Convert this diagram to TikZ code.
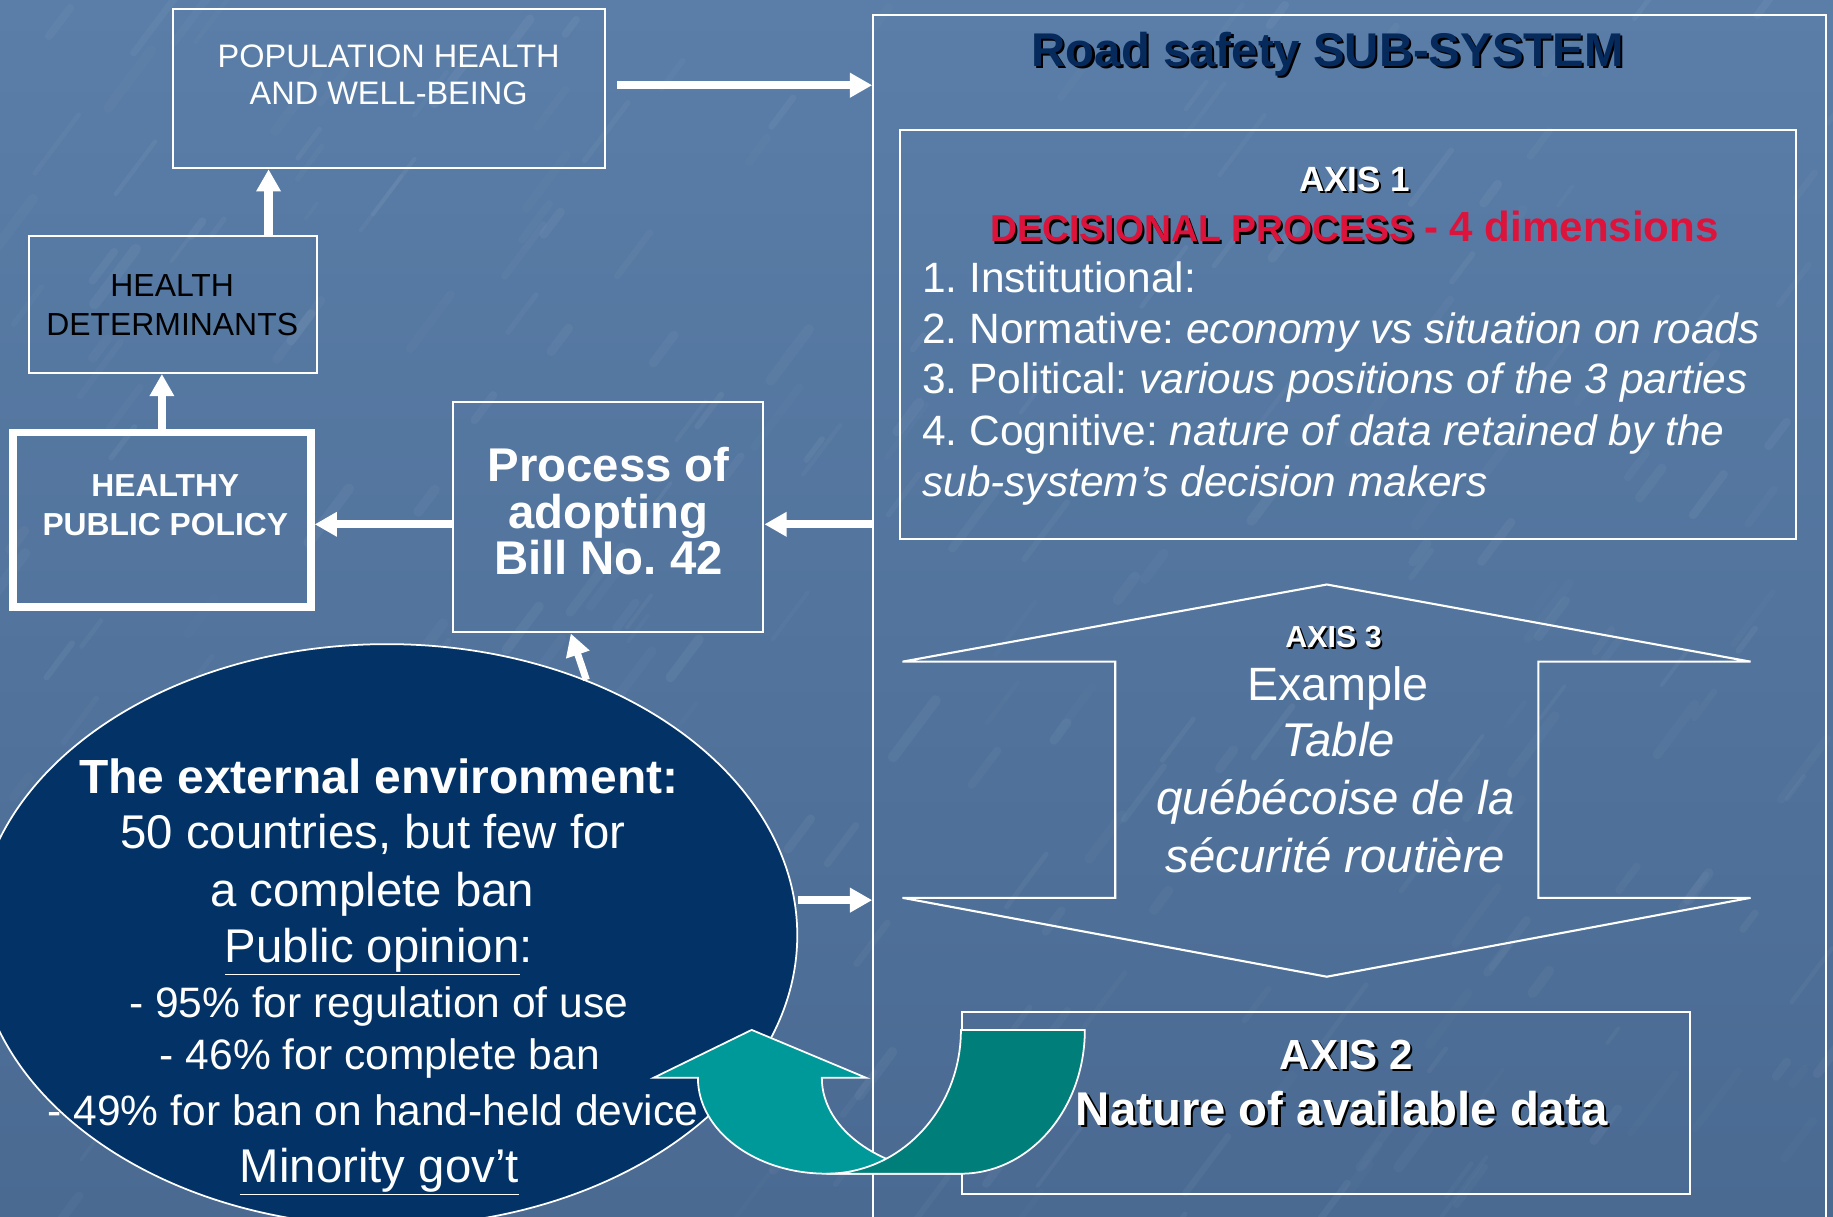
\documentclass[tikz,border=0pt]{standalone}
\usepackage{fontspec}
\setmainfont{Liberation Sans}
\usetikzlibrary{arrows.meta,shapes.geometric}
\definecolor{bgtop}{RGB}{90,126,168}
\definecolor{bgbot}{RGB}{74,106,146}
\definecolor{navyfill}{RGB}{3,51,102}
\definecolor{titlenavy}{RGB}{6,42,92}
\definecolor{crim}{RGB}{220,20,60}
\definecolor{tealA}{RGB}{0,153,153}
\definecolor{tealB}{RGB}{0,126,122}
\frenchspacing
\begin{document}
\frenchspacing
\begin{tikzpicture}[x=1pt,y=-1pt,
  thinbox/.style={draw=white, line width=1.8pt, inner sep=0pt},
  bigarrow/.style={draw=white, line width=7pt, -{Triangle[length=19pt,width=20pt]}},
  txt/.style={text=white, inner sep=0pt, anchor=base},
  shd/.style={text=black, inner sep=0pt, anchor=base},
  fs/.style={font={\fontsize{#1}{#1}\selectfont\frenchspacing}},
  fsb/.style={font={\fontsize{#1}{#1}\selectfont\bfseries\frenchspacing}},
]
\useasboundingbox (0,0) rectangle (1568,1041);
\clip (0,0) rectangle (1568,1041);
% background
\shade[top color=bgtop, bottom color=bgbot] (0,0) rectangle (1568,1041);
\pgfmathsetseed{12}
\foreach \k in {1,...,260}{
  \pgfmathsetmacro\xa{rnd*1600-20}
  \pgfmathsetmacro\ya{rnd*1080-20}
  \pgfmathsetmacro\len{15+rnd*50}
  \pgfmathsetmacro\op{0.015+rnd*0.035}
  \pgfmathsetmacro\lw{3+rnd*6}
  \draw[white, opacity=\op, line width=\lw pt, line cap=round] (\xa,\ya) -- ++(\len*0.6,-\len*0.8);
}

% main sub-system box
\node[thinbox, minimum width=815pt, minimum height=1087pt] (sub) at (1154.5,556.5) {};
% left boxes
\node[thinbox, minimum width=370pt, minimum height=136pt] (pop) at (332.9,75.9) {};
\node[thinbox, minimum width=246.5pt, minimum height=117pt] (hd) at (147.75,260.5) {};
\node[draw=white, line width=6.5pt, inner sep=0pt, minimum width=255pt, minimum height=149pt] (hpp) at (138.5,444.5) {};
\node[thinbox, minimum width=265.5pt, minimum height=197pt] (proc) at (520.25,442.5) {};
% axis boxes
\node[thinbox, minimum width=766pt, minimum height=350pt] (ax1) at (1153,286) {};
\node[thinbox, minimum width=622.5pt, minimum height=155pt] (ax2) at (1134.25,943.5) {};
% axis 3 double arrow
\draw[white, line width=1.8pt, line join=miter] (1135,500) -- (1497.5,566) -- (1316,566) -- (1316,768) -- (1497.5,768) -- (1135,835.5) -- (772,768) -- (954,768) -- (954,566) -- (772,566) -- cycle;
% ellipse
\node[ellipse, draw=white, line width=1.5pt, fill=navyfill, inner sep=0pt, minimum width=702pt, minimum height=498pt] (env) at (331,800) {};

% texts left
\node[txt, fs=27.8] (pop1) at (332.5,57.6) {POPULATION HEALTH};
\node[txt, fs=27.8] (pop2) at (332.5,89.5) {AND WELL-BEING};
\node[txt, fs=27.3, text=black] (hd1) at (147.3,253.9) {HEALTH};
\node[txt, fs=27.3, text=black] (hd2) at (147.3,287.3) {DETERMINANTS};
\node[txt, fsb=27.2] (hpp1) at (141.4,425) {HEALTHY};
\node[txt, fsb=27.2] (hpp2) at (141.4,458.2) {PUBLIC POLICY};
\node[txt, fsb=40.5] (pr1) at (520.5,412.1) {Process of};
\node[txt, fsb=40.5] (pr2) at (520.5,452.2) {adopting};
\node[txt, fsb=40.5] (pr3) at (520.5,491.2) {Bill No. 42};

% title
\node[shd, fsb=40.5] (titsh) at (1137.6,58.3) {Road safety SUB-SYSTEM};
\node[txt, fsb=40.5, text=titlenavy] (tit) at (1135.8,56.5) {Road safety SUB-SYSTEM};

% axis 1
\node[shd, fsb=30] (a1sh) at (1160.7,165.8) {AXIS 1};
\node[txt, fsb=30] (a1) at (1158.9,164) {AXIS 1};
\node[shd, fsb=32, anchor=base west] (dpsh) at (848.8,208.8) {DECISIONAL PROCESS};
\node[txt, fsb=32, text=crim, anchor=base west] (dp) at (847,207) {DECISIONAL PROCESS};
\node[txt, fsb=36, text=crim, anchor=base west] (dim) at (1218,207) {- 4 dimensions};
\node[txt, fs=36.3, anchor=base west] (l1) at (788.7,250.5) {1. Institutional:};
\node[txt, fs=36.3, anchor=base west] (l2) at (788.7,293.9) {2. Normative: \textit{economy vs situation on roads}};
\node[txt, fs=36.3, anchor=base west] (l3) at (788.7,337) {3. Political: \textit{various positions of the 3 parties}};
\node[txt, fs=36.3, anchor=base west] (l4) at (788.7,381.3) {4. Cognitive: \textit{nature of data retained by the}};
\node[txt, fs=36.3, anchor=base west] (l5) at (788.7,424.6) {\textit{sub-system’s decision makers}};

% axis 3
\node[shd, fsb=26] (a3sh) at (1142.4,555.2) {AXIS 3};
\node[txt, fsb=26] (a3) at (1140.8,553.6) {AXIS 3};
\node[txt, fs=40] (ex) at (1144.6,599) {Example};
\node[txt, fs=40.5] (tb) at (1144.6,647.5) {\textit{Table}};
\node[txt, fs=40.5] (qb) at (1142.4,696.6) {\textit{québécoise de la}};
\node[txt, fs=40.5] (sr) at (1142.4,746) {\textit{sécurité routière}};

% ellipse text
\node[txt, fsb=41] (e1) at (324,678.6) {The external environment:};
\node[txt, fs=40.5] (e2) at (319,725.9) {50 countries, but few for};
\node[txt, fs=40.5] (e3) at (318.5,775.4) {a complete ban};
\node[txt, fs=40.5] (e4) at (324,823.5) {\underline{Public opinion}:};
\node[txt, fs=36.4] (e5) at (324,870.1) {- 95\% for regulation of use};
\node[txt, fs=36.4] (e6) at (325,914.8) {- 46\% for complete ban};
\node[txt, fs=36.4] (e7) at (319,963) {- 49\% for ban on hand-held device};
\node[txt, fs=40.5] (e8) at (324.5,1011.8) {\underline{Minority gov’t}};

% arrows
\path ([yshift=3pt]pop.east) coordinate (pa);
\draw[bigarrow, shorten <=9pt] (pa) -- (pa -| sub.west);
\path ([xshift=82pt]hd.north) coordinate (hdA);
\draw[bigarrow] (hdA) -- (hdA |- pop.south);
\draw[bigarrow] (hpp.north) -- (hpp.north |- hd.south);
\path ([yshift=-6pt]proc.west) coordinate (pw);
\draw[bigarrow] (pw) -- (pw -| hpp.east);
\draw[bigarrow] (pw -| sub.west) -- (pw -| proc.east);
\path ([yshift=30pt]env.east) coordinate (ee);
\draw[bigarrow] (ee) -- (ee -| sub.west);
\draw[bigarrow, line width=6pt] (env.52) -- ([xshift=-32pt]proc.south);

% teal curved arrow
\draw[white, line width=1.5pt, fill=tealA] (643,881) -- (741,922) -- (703,922)
  arc[start angle=180, end angle=90, x radius=119, y radius=82] -- (707,1004)
  arc[start angle=90, end angle=180, x radius=110, y radius=82] -- (559,922) -- cycle;
\draw[white, line width=1.5pt, fill=tealB] (822,881) -- (928,881)
  arc[start angle=0, end angle=90, x radius=106, y radius=123] -- (707,1004)
  arc[start angle=90, end angle=0, x radius=115, y radius=123] -- cycle;

% axis 2
\node[shd, fsb=36] (a2sh) at (1153.6,916.3) {AXIS 2};
\node[txt, fsb=36] (a2) at (1151.8,914.5) {AXIS 2};
\node[shd, fsb=40.5] (natsh) at (1149.5,964.7) {Nature of available data};
\node[txt, fsb=40.5] (nat) at (1147.7,962.9) {Nature of available data};
\end{tikzpicture}
\end{document}
